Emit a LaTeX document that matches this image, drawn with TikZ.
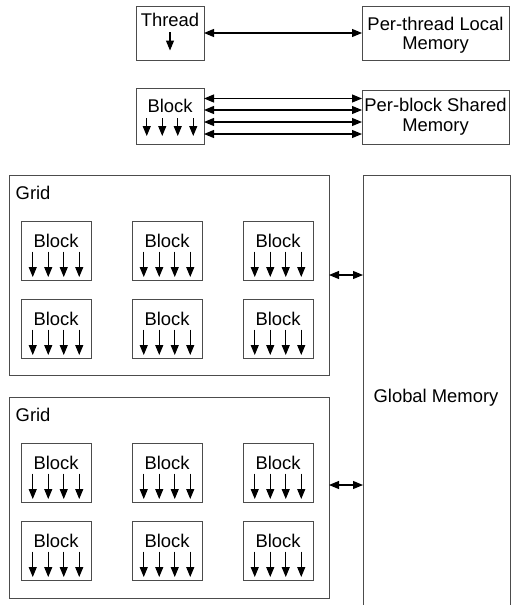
\documentclass[tikz,border=0pt]{standalone}
\usepackage{fontspec}
\setmainfont{Liberation Sans}
\usetikzlibrary{arrows.meta,calc}
\begin{document}
\begin{tikzpicture}[x=1pt,y=-1pt,
  font=\fontsize{18.4pt}{19.5pt}\selectfont,
  box/.style={draw=black!70, line width=1pt, inner sep=0pt, outer sep=0pt},
  tharrow/.style={-{Triangle[length=10pt,width=8pt]}, line width=1.1pt},
  darrow/.style={{Triangle[length=10pt,width=8pt]}-{Triangle[length=10pt,width=8pt]}, line width=1.1pt},
  lbl/.style={inner sep=0pt, anchor=base}]
\useasboundingbox (0,0) rectangle (511,605);
\clip (0,0) rectangle (511,605);

% top row: thread and its local memory
\node[box, minimum width=68pt, minimum height=54pt] (thread) at (170,33) {};
\node[lbl] (threadtxt) at (170,26.7) {Thread};
\draw[tharrow] ($(thread.north)+(0,26)$) -- ++(0,18.5);
\node[box, minimum width=147pt, minimum height=54pt] (local) at (435.5,33) {};
\node[inner sep=0pt, anchor=north, align=center] (localtxt) at (435.5,16.6) {Per-thread Local\\Memory};
\draw[darrow] (thread.east) -- (local.west);

% second row: block and shared memory
\node[box, minimum width=68pt, minimum height=56pt] (blk) at (170,116) {};
\node[lbl] (blktxt) at (170,112.3) {Block};
\foreach \dx in {-23.25,-7.75,7.75,23.25}
  \draw[tharrow] ($(blk.north)+(\dx,30)$) -- ++(0,18);
\node[box, minimum width=147pt, minimum height=54pt] (shared) at (435.5,117) {};
\node[inner sep=0pt, anchor=north, align=center] (sharedtxt) at (435.5,98.4) {Per-block Shared\\Memory};
\foreach \dy in {17.5,6,-6,-18}
  \draw[darrow] ([yshift=\dy pt]blk.east) -- ([yshift=\dy pt]blk.east -| shared.west);

% global memory (runs off the bottom)
\node[box, minimum width=147pt, minimum height=480pt] (global) at (436.5,415) {};
\node[lbl] (globaltxt) at (436,402) {Global Memory};

% grids
\node[box, minimum width=320pt, minimum height=200pt] (grid1) at (169,275) {};
\node[box, minimum width=320pt, minimum height=201pt] (grid2) at (169,497.5) {};
\node[lbl, anchor=base west] (grid1txt) at (15.5,199.3) {Grid};
\node[lbl, anchor=base west] (grid2txt) at (15.5,421.3) {Grid};

\foreach \g/\gt in {1/175,2/397}
 \foreach \r/\ro in {1/46,2/124}
  \foreach \c/\cx in {1/56,2/167,3/278} {
   \node[box, minimum width=70pt, minimum height=59pt] (b\g\r\c) at (\cx,{\gt+\ro+29.5}) {};
   \node[lbl] (t\g\r\c) at ($(b\g\r\c.north)+(0,26)$) {Block};
   \foreach \dx in {-23.25,-7.75,7.75,23.25}
     \draw[tharrow] ($(b\g\r\c.north)+(\dx,30.5)$) -- ++(0,25.5);
  }

\draw[darrow] (grid1.east) -- (grid1.east -| global.west);
\draw[darrow] ([yshift=12.5pt]grid2.east) -- ([yshift=12.5pt]grid2.east -| global.west);
\end{tikzpicture}
\end{document}
